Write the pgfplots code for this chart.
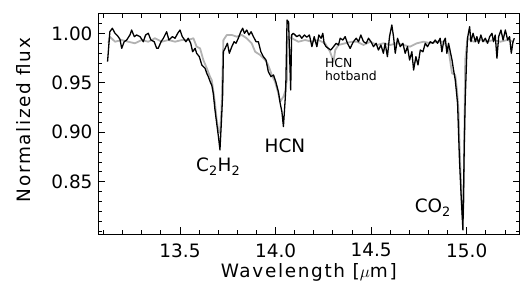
\documentclass[border=0pt]{standalone}
\usepackage{fontspec}
\setmainfont{DejaVu Sans}
\newfontfamily\labfont[LetterSpace=9]{DejaVu Sans}
\usepackage{pgfplots}
\pgfplotsset{compat=1.18}
\definecolor{modelgray}{RGB}{178,178,178}
\begin{document}
\begin{tikzpicture}
\path[use as bounding box] (-98bp,-52bp) rectangle (422bp,234bp);
\begin{axis}[
  at={(0,0)}, anchor=south west,
  scale only axis, width=421.5bp, height=220bp,
  xmin=13.071, xmax=15.276, ymin=0.7972, ymax=1.0195,
  xtick={13.5,14.0,14.5,15.0},
  minor xtick={13.1,13.2,13.3,13.4,13.6,13.7,13.8,13.9,14.1,14.2,14.3,14.4,14.6,14.7,14.8,14.9,15.1,15.2},
  ytick={0.85,0.90,0.95,1.00},
  minor ytick={0.80,0.81,0.82,0.83,0.84,0.86,0.87,0.88,0.89,0.91,0.92,0.93,0.94,0.96,0.97,0.98,0.99,1.01},
  major tick length=7bp, minor tick length=4bp,
  tick style={black, line width=0.9pt},
  axis line style={line width=1pt},
  xticklabel style={yshift=-6bp, /pgf/number format/.cd, fixed, fixed zerofill, precision=1, assume math mode=true},
  yticklabel style={xshift=-2bp, /pgf/number format/.cd, fixed, fixed zerofill, precision=2, assume math mode=true},
  ticklabel style={font=\fontsize{18.5}{22}\selectfont},
  label style={font=\fontsize{18.5}{22}\selectfont\labfont},
  xlabel={Wavelength [$\mu$m]},
  ylabel={Normalized flux},
  xlabel style={yshift=1bp},
  ylabel style={yshift=14bp, xshift=4bp},
  clip=true,
]
\addplot[modelgray, line width=1.8pt, line join=round] coordinates {
(13.125,0.990) (13.133,0.9966) (13.160,0.9915) (13.195,0.9932) (13.229,0.9915) (13.264,0.9899)
(13.299,0.9932) (13.334,0.9915) (13.369,0.9950) (13.404,0.9915) (13.439,0.9932) (13.474,0.9915)
(13.509,0.9932) (13.543,0.9932) (13.570,0.9950) (13.587,0.9865) (13.605,0.9848) (13.622,0.9730)
(13.640,0.9647) (13.657,0.9562) (13.666,0.9528) (13.675,0.9407) (13.683,0.9293) (13.691,0.9144)
(13.701,0.9006) (13.709,0.8993) (13.717,0.9226) (13.727,0.9932) (13.745,0.9983) (13.771,0.9983)
(13.797,0.9966) (13.823,0.9983) (13.849,0.9950) (13.875,0.9899) (13.893,0.9814) (13.919,0.9781)
(13.945,0.9730) (13.957,0.9697) (13.971,0.9629) (13.980,0.9579) (13.997,0.9511) (14.012,0.9410)
(14.024,0.9309) (14.041,0.9360) (14.050,0.9410) (14.059,0.9528) (14.064,0.9966) (14.085,0.9950)
(14.119,0.9915) (14.155,0.9932) (14.190,0.9915) (14.224,0.9932) (14.259,0.9899) (14.285,0.9814)
(14.303,0.9713) (14.312,0.9831) (14.329,0.9882) (14.364,0.9899) (14.399,0.9915) (14.426,0.9915)
(14.460,0.9882) (14.495,0.9915) (14.530,0.9882) (14.564,0.9899) (14.600,0.9882) (14.635,0.9899)
(14.669,0.9882) (14.704,0.9865) (14.739,0.9899) (14.774,0.9915) (14.809,0.9899) (14.844,0.9915)
(14.879,0.9915) (14.896,0.9865) (14.905,0.9831) (14.914,0.9713) (14.923,0.9596) (14.940,0.9579)
(14.949,0.9427) (14.957,0.9226) (14.962,0.8889) (14.970,0.8488) (14.975,0.8185) (14.980,0.8114)
(14.984,0.8316) (14.987,0.8892) (14.992,0.9730) (15.004,0.9950) (15.036,0.9915) (15.071,0.9932)
(15.106,0.9915) (15.140,0.9932) (15.176,0.9915) (15.211,0.9932) (15.246,0.9915)
};
\addplot[black, line width=1.3pt, line join=round] coordinates {
(13.121,0.9713) (13.133,1.0016) (13.146,1.0051) (13.160,1.0000) (13.174,0.9973) (13.186,0.9939)
(13.195,0.9848) (13.208,0.9915) (13.221,0.9932) (13.238,0.9983) (13.247,1.0033) (13.261,0.9966)
(13.273,0.9983) (13.291,0.9966) (13.308,0.9915) (13.320,0.9983) (13.334,1.0000) (13.348,0.9932)
(13.365,0.9915) (13.378,0.9848) (13.386,0.9848) (13.401,0.9915) (13.413,0.9950) (13.430,1.0016)
(13.442,0.9932) (13.460,0.9966) (13.474,0.9950) (13.488,1.0000) (13.500,1.0033) (13.512,0.9966)
(13.531,0.9915) (13.543,0.9950) (13.556,0.9899) (13.566,0.9814) (13.579,0.9848) (13.587,0.9798)
(13.601,0.9764) (13.614,0.9680) (13.631,0.9647) (13.640,0.9596) (13.648,0.9562) (13.661,0.9495)
(13.666,0.9478) (13.674,0.9394) (13.683,0.9226) (13.692,0.9091) (13.701,0.8956) (13.709,0.8822)
(13.717,0.9124) (13.723,0.9377) (13.727,0.9814) (13.736,0.9848) (13.748,0.9899) (13.758,0.9798)
(13.771,0.9865) (13.783,0.9915) (13.793,0.9899) (13.805,0.9950) (13.818,1.0016) (13.828,1.0051)
(13.837,1.0000) (13.849,1.0033) (13.861,0.9983) (13.872,1.0016) (13.884,0.9966) (13.898,0.9915)
(13.910,0.9915) (13.923,0.9814) (13.936,0.9764) (13.950,0.9730) (13.962,0.9612) (13.976,0.9562)
(13.989,0.9579) (14.001,0.9511) (14.015,0.9407) (14.024,0.9293) (14.033,0.9208) (14.041,0.9057)
(14.050,0.9326) (14.053,0.9427) (14.060,1.0134) (14.068,1.0114) (14.079,0.9427) (14.084,0.9983)
(14.093,1.0000) (14.111,0.9966) (14.125,0.9983) (14.137,0.9950) (14.151,0.9983) (14.163,0.9960)
(14.177,0.9983) (14.190,0.9865) (14.202,0.9966) (14.216,0.9865) (14.226,0.9983) (14.238,0.9950)
(14.247,1.0000) (14.254,0.9899) (14.264,0.9865) (14.276,0.9848) (14.289,0.9831) (14.303,0.9865)
(14.317,0.9899) (14.329,0.9882) (14.338,0.9950) (14.352,0.9932) (14.364,0.9966) (14.376,0.9899)
(14.390,0.9848) (14.407,0.9915) (14.422,0.9950) (14.434,0.9915) (14.446,0.9983) (14.460,0.9915)
(14.474,0.9899) (14.486,0.9950) (14.499,0.9915) (14.512,0.9865) (14.526,0.9899) (14.538,0.9831)
(14.551,0.9882) (14.564,0.9798) (14.573,0.9899) (14.585,0.9764) (14.596,0.9966) (14.608,1.0084)
(14.617,0.9966) (14.626,0.9798) (14.638,0.9950) (14.652,0.9865) (14.666,0.9899) (14.678,0.9798)
(14.690,0.9865) (14.701,0.9730) (14.713,0.9814) (14.722,0.9629) (14.734,0.9764) (14.745,0.9680)
(14.757,0.9831) (14.771,0.9814) (14.783,0.9899) (14.795,0.9865) (14.809,0.9915) (14.823,0.9899)
(14.835,0.9932) (14.847,0.9899) (14.861,0.9950) (14.870,0.9814) (14.879,0.9915) (14.888,0.9950)
(14.896,0.9798) (14.905,0.9899) (14.914,0.9814) (14.923,0.9730) (14.931,0.9629) (14.940,0.9528)
(14.952,0.9293) (14.962,0.8720) (14.970,0.8387) (14.980,0.8013) (14.987,0.8855) (14.992,0.9326)
(15.000,0.9781) (15.004,0.9950) (15.015,1.0067) (15.022,0.9915) (15.033,1.0000) (15.045,0.9915)
(15.053,0.9966) (15.062,0.9899) (15.074,0.9983) (15.085,0.9915) (15.097,0.9950) (15.109,0.9899)
(15.120,0.9966) (15.132,1.0000) (15.140,0.9915) (15.149,0.9983) (15.158,0.9748) (15.167,0.9966)
(15.179,1.0033) (15.190,0.9932) (15.202,1.0033) (15.214,0.9932) (15.224,0.9966) (15.233,0.9798)
(15.242,0.9915) (15.249,0.9950)
};
\node[anchor=base, font=\fontsize{18.5}{22}\selectfont] at (axis cs:13.700,0.860) {C\textsubscript{2}H\textsubscript{2}};
\node[anchor=base, font=\fontsize{18.5}{22}\selectfont] at (axis cs:14.049,0.880) {HCN};
\node[anchor=base, font=\fontsize{18.5}{22}\selectfont] at (axis cs:14.823,0.8185) {CO\textsubscript{2}};
\node[anchor=base west, align=left, inner sep=0pt, font=\fontsize{12.5}{13}\selectfont] at (axis cs:14.258,0.9528) {HCN\\hotband};
\end{axis}
\end{tikzpicture}
\end{document}
